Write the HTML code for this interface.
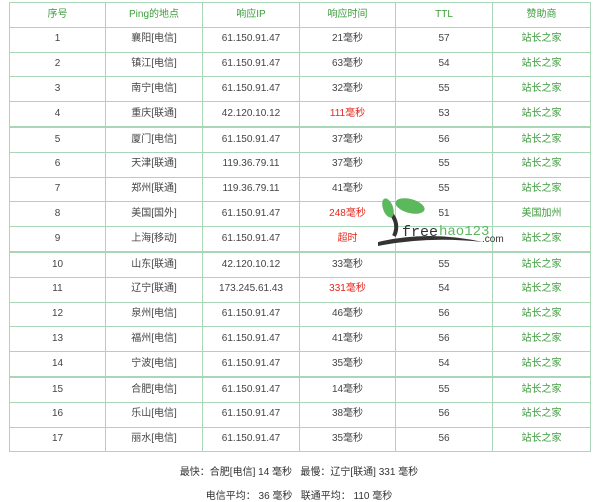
<!DOCTYPE html>
<html><head><meta charset="utf-8"><style>
body{margin:0;width:598px;height:500px;background:#fff;font-family:"Liberation Sans","Noto Sans CJK SC",sans-serif;overflow:hidden;position:relative}
table{position:absolute;left:9px;top:2px;border-collapse:collapse;width:581px;table-layout:fixed}
td,th{border:1px solid #a9d6b6;height:23.8px;padding:0;text-align:center;font-size:10px;line-height:12px;color:#444;font-weight:normal;vertical-align:middle}
td span,th span{display:inline-block;height:12px;line-height:12px;vertical-align:middle}
th{color:#3c9c3c}
tr.sep td{border-top:2px solid #a9d6b6}
.r{color:#e8261e}.g{color:#3c9c3c}
.foot{position:absolute;left:0;width:598px;text-align:center;font-size:10px;color:#333}
</style></head><body>
<table>
<colgroup><col style="width:96px"><col style="width:97px"><col style="width:97px"><col style="width:96px"><col style="width:97px"><col style="width:98px"></colgroup>
<tr><th><span>序号</span></th><th><span>Ping的地点</span></th><th><span>响应IP</span></th><th><span>响应时间</span></th><th><span>TTL</span></th><th><span>赞助商</span></th></tr>
<tr><td><span>1</span></td><td><span>襄阳[电信]</span></td><td><span>61.150.91.47</span></td><td><span>21毫秒</span></td><td><span>57</span></td><td class="g"><span>站长之家</span></td></tr>
<tr><td><span>2</span></td><td><span>镇江[电信]</span></td><td><span>61.150.91.47</span></td><td><span>63毫秒</span></td><td><span>54</span></td><td class="g"><span>站长之家</span></td></tr>
<tr><td><span>3</span></td><td><span>南宁[电信]</span></td><td><span>61.150.91.47</span></td><td><span>32毫秒</span></td><td><span>55</span></td><td class="g"><span>站长之家</span></td></tr>
<tr><td><span>4</span></td><td><span>重庆[联通]</span></td><td><span>42.120.10.12</span></td><td class="r"><span>111毫秒</span></td><td><span>53</span></td><td class="g"><span>站长之家</span></td></tr>
<tr class="sep"><td><span>5</span></td><td><span>厦门[电信]</span></td><td><span>61.150.91.47</span></td><td><span>37毫秒</span></td><td><span>56</span></td><td class="g"><span>站长之家</span></td></tr>
<tr><td><span>6</span></td><td><span>天津[联通]</span></td><td><span>119.36.79.11</span></td><td><span>37毫秒</span></td><td><span>55</span></td><td class="g"><span>站长之家</span></td></tr>
<tr><td><span>7</span></td><td><span>郑州[联通]</span></td><td><span>119.36.79.11</span></td><td><span>41毫秒</span></td><td><span>55</span></td><td class="g"><span>站长之家</span></td></tr>
<tr><td><span>8</span></td><td><span>美国[国外]</span></td><td><span>61.150.91.47</span></td><td class="r"><span>248毫秒</span></td><td><span>51</span></td><td class="g"><span>美国加州</span></td></tr>
<tr><td><span>9</span></td><td><span>上海[移动]</span></td><td><span>61.150.91.47</span></td><td class="r"><span>超时</span></td><td></td><td class="g"><span>站长之家</span></td></tr>
<tr class="sep"><td><span>10</span></td><td><span>山东[联通]</span></td><td><span>42.120.10.12</span></td><td><span>33毫秒</span></td><td><span>55</span></td><td class="g"><span>站长之家</span></td></tr>
<tr><td><span>11</span></td><td><span>辽宁[联通]</span></td><td><span>173.245.61.43</span></td><td class="r"><span>331毫秒</span></td><td><span>54</span></td><td class="g"><span>站长之家</span></td></tr>
<tr><td><span>12</span></td><td><span>泉州[电信]</span></td><td><span>61.150.91.47</span></td><td><span>46毫秒</span></td><td><span>56</span></td><td class="g"><span>站长之家</span></td></tr>
<tr><td><span>13</span></td><td><span>福州[电信]</span></td><td><span>61.150.91.47</span></td><td><span>41毫秒</span></td><td><span>56</span></td><td class="g"><span>站长之家</span></td></tr>
<tr><td><span>14</span></td><td><span>宁波[电信]</span></td><td><span>61.150.91.47</span></td><td><span>35毫秒</span></td><td><span>54</span></td><td class="g"><span>站长之家</span></td></tr>
<tr class="sep"><td><span>15</span></td><td><span>合肥[电信]</span></td><td><span>61.150.91.47</span></td><td><span>14毫秒</span></td><td><span>55</span></td><td class="g"><span>站长之家</span></td></tr>
<tr><td><span>16</span></td><td><span>乐山[电信]</span></td><td><span>61.150.91.47</span></td><td><span>38毫秒</span></td><td><span>56</span></td><td class="g"><span>站长之家</span></td></tr>
<tr><td><span>17</span></td><td><span>丽水[电信]</span></td><td><span>61.150.91.47</span></td><td><span>35毫秒</span></td><td><span>56</span></td><td class="g"><span>站长之家</span></td></tr>
</table>
<svg style="position:absolute;left:378px;top:196px" width="140" height="52">
<path d="M16 40 Q22 28 12 16" stroke="#333" stroke-width="4" fill="none"/>
<ellipse cx="10" cy="12" rx="5" ry="10" fill="#5cb85c" transform="rotate(-20 10 12)"/>
<ellipse cx="32" cy="10" rx="15" ry="7" fill="#5cb85c" transform="rotate(15 32 10)"/>
<path d="M0 46 Q50 34 105 46 Q50 40 0 50Z" fill="#333"/>
<text x="24" y="40" font-family="Liberation Mono,monospace" font-size="15" fill="#333">free</text>
<text x="61" y="39" font-family="Liberation Mono,monospace" font-size="14" fill="#5cb85c">hao123</text>
<text x="104" y="46" font-family="Liberation Sans,sans-serif" font-size="10" fill="#333">.com</text>
</svg>
<div class="foot" style="top:463px">最快：合肥[电信] 14 毫秒 &nbsp; 最慢：辽宁[联通] 331 毫秒</div>
<div class="foot" style="top:487px">电信平均： 36 毫秒 &nbsp; 联通平均： 110 毫秒</div>
</body></html>
